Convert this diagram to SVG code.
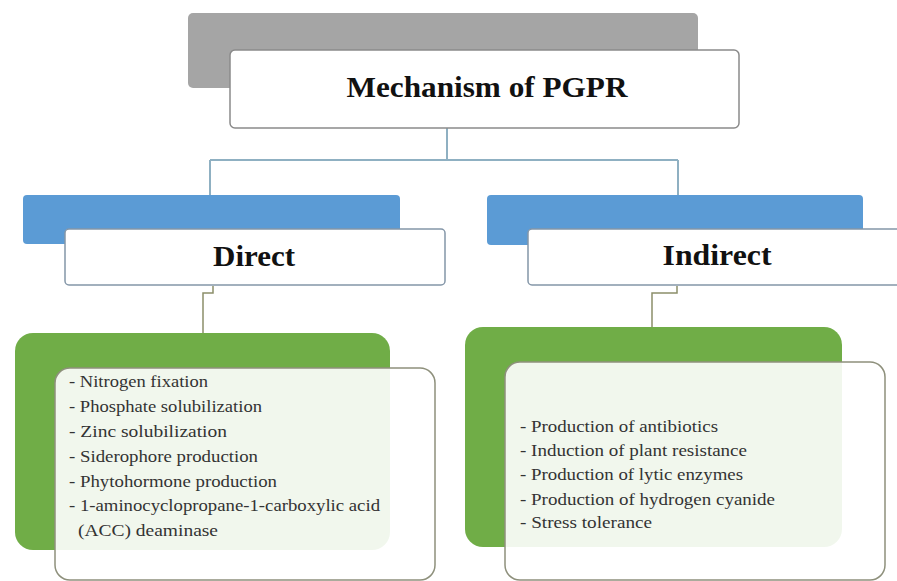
<svg xmlns="http://www.w3.org/2000/svg" width="897" height="581" viewBox="0 0 897 581">
<style>
.shadow-gray{fill:#a5a5a5}
.shadow-blue{fill:#5b9bd5}
.shadow-green{fill:#70ad47}
.card{fill:#ffffff;stroke:#8a8a8a;stroke-width:1.5}
.card-blue{fill:#ffffff;stroke:#8496a8;stroke-width:1.5}
.card-green{fill:#ffffff;fill-opacity:0.9;stroke:#8e907c;stroke-width:1.5}
.head{font-weight:bold;fill:#111;text-anchor:middle}
.item{font-size:16px;fill:#333}
.conn-top{fill:none;stroke:#8fb0c2;stroke-width:2}
.conn-low{fill:none;stroke:#8c8f6a;stroke-width:1.5}
</style>
<rect width="897" height="581" fill="#ffffff"/>
<g id="connectors">
<path class="conn-top" d="M447 128 V160 M210 160 H678 M210 160 V196 M678 160 V196"/>
<path class="conn-low" d="M213 286 V293 H203 V334"/>
<path class="conn-low" d="M677 286 V293 H652 V328"/>
</g>
<g font-family="'Liberation Serif', 'DejaVu Serif', 'Times New Roman', serif">
<g id="node-root">
<rect class="shadow-gray" x="188" y="13" width="510" height="75" rx="5"/>
<rect class="card" x="230" y="50" width="509" height="78" rx="5"/>
<text class="head" x="487" y="97" font-size="30" textLength="281" lengthAdjust="spacingAndGlyphs">Mechanism of PGPR</text>
</g>
<g id="node-direct">
<rect class="shadow-blue" x="23" y="195" width="377" height="49" rx="4"/>
<rect class="card-blue" x="65" y="229" width="380" height="56" rx="4"/>
<text class="head" x="254" y="266" font-size="29" textLength="82" lengthAdjust="spacingAndGlyphs">Direct</text>
</g>
<g id="node-indirect">
<rect class="shadow-blue" x="487" y="195" width="376" height="50" rx="4"/>
<rect class="card-blue" x="528" y="229" width="380" height="56" rx="4"/>
<text class="head" x="717" y="265" font-size="29" textLength="109" lengthAdjust="spacingAndGlyphs">Indirect</text>
</g>
<g id="node-direct-list">
<rect class="shadow-green" x="15" y="333" width="375" height="217" rx="18"/>
<rect class="card-green" x="55" y="368" width="380" height="212" rx="15"/>
<text class="item" x="69" y="387" textLength="139" lengthAdjust="spacingAndGlyphs">- Nitrogen fixation</text>
<text class="item" x="69" y="412" textLength="193" lengthAdjust="spacingAndGlyphs">- Phosphate solubilization</text>
<text class="item" x="69" y="437" textLength="158" lengthAdjust="spacingAndGlyphs">- Zinc solubilization</text>
<text class="item" x="69" y="462" textLength="189" lengthAdjust="spacingAndGlyphs">- Siderophore production</text>
<text class="item" x="69" y="487" textLength="208" lengthAdjust="spacingAndGlyphs">- Phytohormone production</text>
<text class="item" x="69" y="511" textLength="311" lengthAdjust="spacingAndGlyphs">- 1-aminocyclopropane-1-carboxylic acid</text>
<text class="item" x="78" y="536" textLength="140" lengthAdjust="spacingAndGlyphs">(ACC) deaminase</text>
</g>
<g id="node-indirect-list">
<rect class="shadow-green" x="465" y="327" width="377" height="220" rx="18"/>
<rect class="card-green" x="505" y="362" width="380" height="218" rx="15"/>
<text class="item" x="520" y="432" textLength="198" lengthAdjust="spacingAndGlyphs">- Production of antibiotics</text>
<text class="item" x="520" y="456" textLength="227" lengthAdjust="spacingAndGlyphs">- Induction of plant resistance</text>
<text class="item" x="520" y="480" textLength="223" lengthAdjust="spacingAndGlyphs">- Production of lytic enzymes</text>
<text class="item" x="520" y="505" textLength="255" lengthAdjust="spacingAndGlyphs">- Production of hydrogen cyanide</text>
<text class="item" x="520" y="528" textLength="132" lengthAdjust="spacingAndGlyphs">- Stress tolerance</text>
</g>
</g>
</svg>
